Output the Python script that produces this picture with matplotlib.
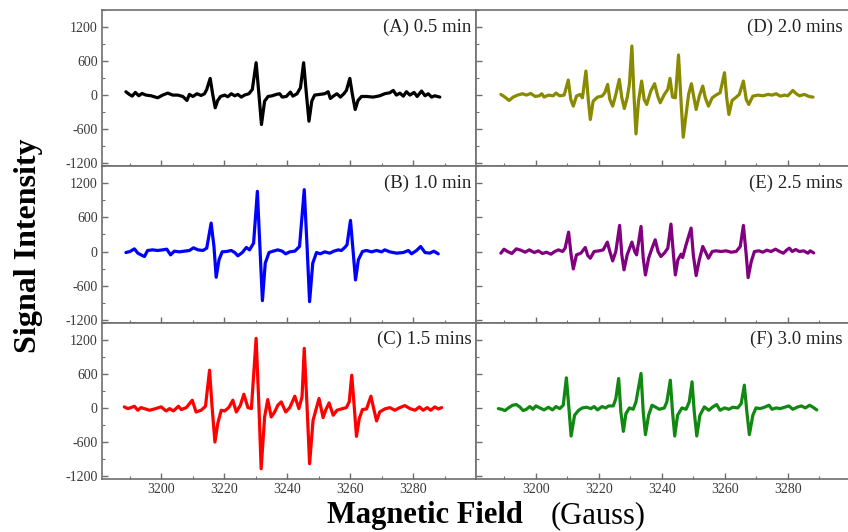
import matplotlib
matplotlib.use("Agg")
import matplotlib.pyplot as plt
from matplotlib.ticker import MultipleLocator, FixedLocator

plt.rcParams['font.family'] = 'serif'
plt.rcParams['font.serif'] = ['Liberation Serif', 'DejaVu Serif']
plt.rcParams['axes.unicode_minus'] = False

# (A) 0.5 min
field_a = [3188.7, 3189.8, 3190.7, 3191.7, 3192.8, 3193.8, 3195.1, 3196.7, 3198.8, 3200.4,
           3202.0, 3203.6, 3205.2, 3206.8, 3208.1, 3208.9, 3210.0, 3211.3, 3212.6, 3213.7,
           3214.4, 3215.5, 3216.3, 3217.1, 3217.9, 3218.8, 3220.1, 3221.1, 3222.2, 3223.3,
           3224.3, 3225.4, 3226.4, 3227.8, 3228.9, 3230.1, 3231.0, 3231.8, 3232.8, 3233.9,
           3235.2, 3236.5, 3237.6, 3238.4, 3239.7, 3241.0, 3241.8, 3243.1, 3244.2, 3245.2,
           3246.1, 3246.9, 3247.8, 3248.7, 3250.3, 3251.9, 3253.0, 3253.7, 3254.8, 3255.8,
           3256.9, 3258.0, 3258.8, 3259.9, 3260.7, 3261.6, 3262.5, 3263.6, 3265.2, 3267.3,
           3269.4, 3271.0, 3272.6, 3273.7, 3274.7, 3275.8, 3276.9, 3277.9, 3279.0, 3280.3,
           3281.3, 3282.7, 3283.8, 3284.8, 3285.9, 3286.9, 3288.5]
signal_a = [59, 12, -18, 47, -12, 29, 0, -12, -47, 0,
            35, 0, 0, -24, -94, 12, -24, 24, -6, 24,
            100, 294, 12, -223, -94, -24, 0, -29, 24, -12,
            12, -35, 0, 24, 100, 570, 12, -517, -106, -24,
            -12, 12, 24, -35, -24, 53, -18, 24, 129, 570,
            12, -459, -106, 0, 12, 24, 59, -59, -12, 24,
            -35, 24, 82, 294, 12, -253, -94, -24, -24, -35,
            -12, 24, 41, 82, 0, 35, -18, 59, 0, 47,
            -24, 71, -12, 24, -35, -12, -35]

# (B) 1.0 min
field_b = [3188.7, 3190.0, 3191.4, 3192.5, 3193.5, 3194.6, 3195.6, 3197.2, 3198.8, 3200.4,
           3201.7, 3202.9, 3204.1, 3205.7, 3207.3, 3208.9, 3210.2, 3211.6, 3213.2, 3214.4,
           3215.8, 3216.7, 3217.4, 3218.3, 3219.3, 3220.6, 3222.2, 3223.3, 3224.3, 3225.7,
           3227.0, 3228.0, 3229.3, 3230.5, 3231.3, 3232.1, 3233.0, 3234.2, 3235.5, 3237.0,
           3238.4, 3239.5, 3240.8, 3242.4, 3243.9, 3245.4, 3246.3, 3247.1, 3248.1, 3249.3,
           3250.5, 3251.9, 3253.5, 3254.8, 3256.2, 3257.2, 3258.3, 3259.0, 3260.1, 3260.9,
           3261.7, 3262.6, 3263.9, 3265.2, 3266.8, 3268.4, 3270.0, 3271.0, 3272.6, 3274.7,
           3276.9, 3278.5, 3279.5, 3281.1, 3282.4, 3283.8, 3285.3, 3286.6, 3288.0]
signal_b = [-18, 0, 47, -29, -59, -88, 18, 29, 18, 29,
            41, -59, 6, -6, 6, 18, 65, 29, 18, 59,
            500, 88, -453, -147, -6, 0, 18, -18, -76, -18,
            71, 29, 147, 1058, 88, -864, -206, -18, 6, 29,
            6, -41, -6, 6, 88, 1088, 88, -882, -206, -18,
            -41, -6, -29, 6, 29, 18, 71, 118, 547, 29,
            -500, -147, 0, 18, -6, 18, -6, 29, -6, -29,
            -18, 18, -41, 18, 88, -18, -29, 6, -41]

# (C) 1.5 mins
field_c = [3188.2, 3189.3, 3190.3, 3191.4, 3192.5, 3193.5, 3194.9, 3196.2, 3197.8, 3199.9,
           3201.5, 3202.6, 3203.8, 3205.4, 3206.3, 3207.9, 3209.8, 3211.0, 3212.6, 3214.0,
           3215.3, 3216.1, 3217.0, 3217.9, 3219.0, 3220.1, 3221.4, 3222.7, 3223.8, 3225.1,
           3226.2, 3227.5, 3228.6, 3230.1, 3231.0, 3231.7, 3232.8, 3233.8, 3234.9, 3236.0,
           3237.0, 3238.1, 3239.5, 3240.8, 3242.4, 3243.7, 3244.7, 3245.4, 3246.3, 3247.1,
           3248.2, 3250.1, 3251.4, 3252.2, 3253.3, 3254.6, 3255.8, 3257.2, 3258.8, 3259.7,
           3260.5, 3261.3, 3262.0, 3262.9, 3263.9, 3265.2, 3266.6, 3267.6, 3268.4, 3269.4,
           3271.0, 3272.6, 3274.2, 3275.8, 3277.4, 3279.0, 3280.6, 3282.0, 3283.2, 3284.5,
           3285.6, 3286.9, 3288.0, 3289.1]
signal_c = [18, -12, 6, 29, -41, 6, -18, -41, -18, 18,
            -53, -12, -53, 29, -29, 6, 135, -71, -41, 29,
            664, 18, -600, -276, -41, -53, 6, 135, -71, 47,
            241, 6, -12, 1223, 18, -1070, -159, 147, -159, -71,
            47, 106, -71, 6, 206, -12, 194, 1047, 18, -982,
            -218, 165, -171, -41, 88, -129, -41, -18, 6, 106,
            576, 18, -500, -188, -29, -18, 206, -41, -229, -71,
            -18, 6, -41, 6, 41, -12, -41, 18, -41, 6,
            -41, 18, -18, 6]

# (D) 2.0 mins
field_d = [3188.9, 3190.2, 3191.5, 3192.8, 3194.2, 3195.8, 3197.0, 3198.4, 3199.8, 3201.1,
           3201.9, 3202.6, 3204.0, 3205.5, 3206.4, 3207.6, 3209.0, 3210.3, 3211.1, 3211.9,
           3212.9, 3214.0, 3214.8, 3215.9, 3216.7, 3217.3, 3218.2, 3219.6, 3221.0, 3221.9,
           3222.8, 3223.5, 3224.4, 3225.4, 3226.5, 3227.3, 3228.1, 3229.0, 3229.7, 3230.5,
           3231.2, 3231.8, 3232.6, 3233.6, 3234.4, 3235.2, 3236.5, 3237.7, 3238.7, 3239.5,
           3240.8, 3241.9, 3242.6, 3243.4, 3244.3, 3245.3, 3246.1, 3246.8, 3247.7, 3248.5,
           3249.4, 3250.2, 3250.9, 3251.9, 3253.0, 3253.8, 3254.8, 3256.0, 3257.2, 3258.5,
           3259.9, 3260.6, 3261.3, 3262.3, 3263.4, 3264.6, 3265.9, 3266.8, 3267.6, 3268.9,
           3270.5, 3272.1, 3273.7, 3275.0, 3276.3, 3277.6, 3279.0, 3280.0, 3281.6, 3282.7,
           3283.7, 3285.3, 3286.7, 3288.0]
signal_d = [12, -35, -94, -35, 0, 24, 0, 29, -24, -12,
            24, -35, 0, -12, 35, -12, 0, 265, -76, -194,
            -18, 12, -47, 423, -106, -429, -106, -35, -18, 41,
            188, -76, -194, 12, 276, -47, -235, -47, 188, 864,
            -47, -682, -106, 247, -76, -165, 71, 200, -18, -135,
            12, 100, 294, -35, -47, 706, -106, -741, -341, 12,
            200, -47, -253, -18, 159, -47, -194, -47, 0, 41,
            394, -47, -341, -94, -47, 12, 247, -76, -165, -18,
            0, -12, 12, 0, 24, -18, 0, -12, 82, 24,
            -12, 12, -24, -35]

# (E) 2.5 mins
field_e = [3188.9, 3189.9, 3191.0, 3192.4, 3193.8, 3195.2, 3196.6, 3197.9, 3199.5, 3200.8,
           3202.1, 3203.4, 3204.8, 3206.0, 3207.2, 3208.5, 3209.3, 3210.4, 3211.2, 3211.9,
           3212.9, 3214.3, 3215.7, 3216.5, 3217.3, 3218.5, 3220.1, 3221.4, 3222.7, 3223.5,
           3224.4, 3225.4, 3226.6, 3227.3, 3228.0, 3229.0, 3230.5, 3231.4, 3232.0, 3233.4,
           3234.1, 3234.8, 3235.8, 3236.9, 3237.9, 3238.8, 3239.7, 3240.8, 3241.9, 3242.9,
           3243.7, 3244.3, 3245.1, 3246.1, 3246.6, 3247.7, 3249.3, 3250.0, 3250.9, 3251.9,
           3253.0, 3253.8, 3254.8, 3256.0, 3257.2, 3258.8, 3260.4, 3262.0, 3263.6, 3264.9,
           3265.9, 3266.8, 3267.4, 3268.4, 3269.4, 3270.8, 3272.1, 3273.3, 3274.7, 3276.1,
           3277.4, 3278.6, 3279.7, 3280.5, 3281.4, 3282.5, 3283.7, 3285.0, 3286.4, 3287.1,
           3288.2]
signal_e = [-29, 41, 0, -35, 47, 24, -12, 29, -18, 12,
            -35, -12, -47, 0, 29, 0, 59, 341, -59, -306,
            -59, -29, 71, -71, -118, 0, 12, 29, 165, 0,
            -165, 0, 459, -59, -323, -59, 165, 0, -59, 441,
            -118, -412, -118, 59, 206, 0, -88, -29, 59, 482,
            -59, -412, -147, -47, -106, 118, 412, -59, -423, -147,
            88, 0, -118, 0, 12, 0, 12, -12, 0, 88,
            459, -59, -459, -176, 0, 12, -12, 24, 0, 41,
            0, -29, 29, 59, 0, 35, 0, 12, -29, 12,
            -24]

# (F) 3.0 mins
field_f = [3188.1, 3189.2, 3190.2, 3191.3, 3192.6, 3193.8, 3194.9, 3196.0, 3197.0, 3198.1,
           3199.1, 3200.0, 3201.3, 3202.6, 3204.0, 3205.3, 3206.4, 3207.6, 3208.7, 3209.7,
           3210.6, 3211.2, 3212.3, 3213.6, 3214.8, 3216.1, 3217.5, 3218.5, 3219.6, 3221.0,
           3222.2, 3223.1, 3224.6, 3225.4, 3226.3, 3227.0, 3227.8, 3228.6, 3229.7, 3230.9,
           3231.8, 3233.4, 3234.1, 3234.8, 3235.8, 3236.9, 3238.1, 3239.2, 3240.8, 3241.6,
           3242.7, 3243.4, 3244.1, 3245.0, 3246.4, 3247.7, 3248.7, 3249.6, 3250.3, 3251.1,
           3252.1, 3253.5, 3254.9, 3256.2, 3257.4, 3258.5, 3259.9, 3261.3, 3262.5, 3264.1,
           3265.2, 3266.2, 3267.0, 3267.8, 3268.9, 3269.9, 3271.2, 3272.6, 3274.0, 3275.0,
           3276.3, 3277.6, 3279.0, 3280.3, 3281.6, 3282.9, 3284.3, 3285.6, 3286.9, 3288.0,
           3289.2]
signal_f = [-12, -24, -47, 0, 47, 59, 18, -47, -24, 24,
            -24, 35, 0, -35, 12, -35, 24, -12, 47, 529,
            -71, -494, -129, -41, 0, 12, -12, 24, -35, 24,
            0, 35, 35, 165, 517, -71, -412, -100, 0, -24,
            106, 606, -71, -470, -129, 47, 12, -24, 0, 106,
            488, -71, -494, -129, 0, -24, 106, 459, -71, -494,
            -129, 18, -41, 18, 59, -41, 0, -24, 12, 0,
            76, 400, -71, -470, -129, 0, -12, 12, 47, -24,
            0, -12, 12, 35, -24, 12, 35, 0, 47, 12,
            -35]

labels = ["(A) 0.5 min", "(B) 1.0 min", "(C) 1.5 mins",
          "(D) 2.0 mins", "(E) 2.5 mins", "(F) 3.0 mins"]
colors = ["black", "#0000ff", "#ff0000", "#8a8a00", "#800080", "#118811"]
fields = [field_a, field_b, field_c, field_d, field_e, field_f]
signals = [signal_a, signal_b, signal_c, signal_d, signal_e, signal_f]

x_major = [3200, 3220, 3240, 3260, 3280]
x_minor = [3190, 3210, 3230, 3250, 3270, 3290]
y_major = [-1200, -600, 0, 600, 1200]

fig = plt.figure(figsize=(8.48, 5.32), dpi=100)

lefts = [0.1199, 0.5613]
widths = [0.4414, 0.442]
bottoms = [0.6876, 0.3936, 0.0996]
height = 0.294
spine_col = "#6e6e6e"
tick_col = "#3a3a3a"

for k in range(6):
    col = k // 3
    row = k % 3
    ax = fig.add_axes([lefts[col], bottoms[row], widths[col], height])
    ax.plot(fields[k], signals[k], color=colors[k], lw=2.3,
            solid_joinstyle='round', solid_capstyle='round')
    ax.set_xlim(3181, 3300)
    ax.set_ylim(-1250, 1500)
    ax.xaxis.set_major_locator(FixedLocator(x_major))
    ax.xaxis.set_minor_locator(FixedLocator(x_minor))
    ax.yaxis.set_major_locator(FixedLocator(y_major))
    ax.yaxis.set_minor_locator(MultipleLocator(300))
    ax.tick_params(which='both', direction='in', colors=spine_col,
                   labelcolor=tick_col, labelsize=10, pad=3)
    ax.tick_params(which='major', length=4, width=1)
    ax.tick_params(which='minor', length=2.5, width=0.8)
    for s in ax.spines.values():
        s.set_color(spine_col)
        s.set_linewidth(1.2)
    if col == 1:
        ax.tick_params(labelleft=False)
    if row != 2:
        ax.tick_params(labelbottom=False)
    xt = 0.989 if col == 0 else 0.978
    ax.text(xt, 0.89, labels[k], transform=ax.transAxes, ha='right', va='center',
            fontsize=13.5, color='#222222')

fig.text(29 / 848, 0.539, "Signal Intensity", rotation=90, ha='center', va='center',
         fontsize=23, fontweight='bold')
fig.text(327 / 848, 0.016, "Magnetic Field", ha='left', va='baseline',
         fontsize=22, fontweight='bold')
fig.text(551 / 848, 0.016, "(Gauss)", ha='left', va='baseline', fontsize=22)

fig.savefig("out.png", dpi=100)
